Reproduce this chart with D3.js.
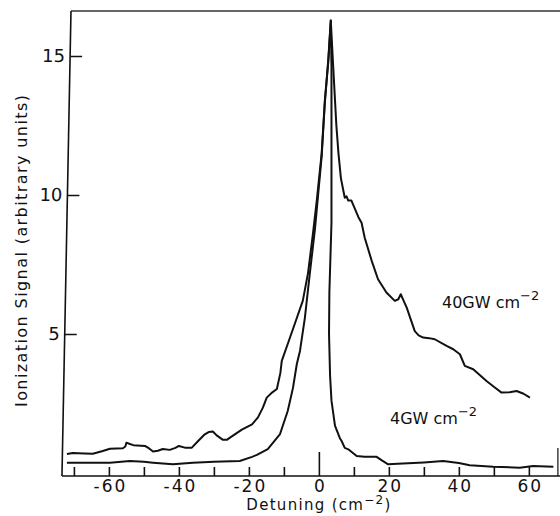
<!DOCTYPE html>
<html>
<head>
<meta charset="utf-8">
<script src="https://cdn.jsdelivr.net/npm/d3@7"></script>
<style>
  body { margin: 0; background: #fff; }
  text { font-family: "DejaVu Sans", sans-serif; fill: #111; }
</style>
</head>
<body>
<div id="chart"></div>
<script>
// Data: detuning (cm^-2) vs ionization signal
const detuning40 = [-72, -70.3, -67, -64.6, -62, -59.7, -56, -55.3, -55, -54, -53, -49.7, -48.5, -47.4, -46, -44.6, -42.6, -41, -40, -38.3, -36.3, -34.5, -32.6, -31.5, -30.3, -29.2, -27.4, -26.3, -25.4, -22, -19.1, -17.4, -16, -14.9, -13.3, -12, -11, -10.6, -8.9, -6.9, -4.6, -3.1, -1.7, -0.6, 0.8, 1.7, 2.7, 3.4, 4.1, 5.0, 5.6, 6.3, 7.4, 7.9, 8.4, 9.3, 10.3, 11.3, 12.2, 13.1, 15.1, 16.9, 19.3, 21.7, 22.7, 23.4, 24.2, 25.1, 27.4, 28.5, 29.8, 31.5, 33.1, 36.5, 38.4, 40.3, 41.7, 44.1, 47.9, 50, 52.2, 54.5, 56.5, 58.5, 60.3];
const signal40 = [0.68, 0.72, 0.70, 0.69, 0.78, 0.87, 0.89, 0.95, 1.09, 1.04, 1.00, 0.97, 0.88, 0.77, 0.80, 0.86, 0.83, 0.90, 0.97, 0.91, 0.91, 1.15, 1.39, 1.47, 1.49, 1.35, 1.19, 1.19, 1.27, 1.56, 1.75, 2.0, 2.35, 2.71, 2.9, 3.02, 3.6, 4.03, 4.64, 5.36, 6.19, 7.19, 8.6, 9.8, 11.5, 13.4, 14.8, 16.28, 14.6, 12.5, 11.5, 10.6, 9.9, 9.95, 9.8, 9.8, 9.5, 9.2, 9.0, 8.46, 7.63, 6.97, 6.49, 6.19, 6.25, 6.43, 6.2, 5.95, 5.1, 4.95, 4.87, 4.85, 4.81, 4.57, 4.45, 4.27, 3.85, 3.73, 3.31, 3.1, 2.89, 2.9, 2.95, 2.85, 2.71];

const detuning4 = [-72, -65, -59.7, -54, -50, -47.4, -41.7, -36, -30, -22.6, -19.1, -17.7, -14.6, -11.1, -8.9, -7.4, -6.3, -5.4, -4.0, -2.6, -1.1, 0.8, 1.7, 2.7, 3.4, 3.6, 3.6, 3.0, 2.9, 3.2, 3.6, 4.6, 6.0, 6.5, 7.4, 8.4, 10.8, 13, 16.5, 18, 19.8, 24, 30, 35.5, 40, 43.1, 49.8, 57.4, 61.2, 67];
const signal4 = [0.37, 0.37, 0.37, 0.43, 0.40, 0.37, 0.31, 0.37, 0.40, 0.43, 0.58, 0.65, 0.86, 1.4, 2.23, 3.06, 3.92, 4.39, 5.58, 7.16, 8.8, 11.4, 13.3, 14.9, 16.28, 14.6, 9.0, 6.5, 5.0, 3.5, 2.6, 1.7, 1.25, 1.15, 0.9, 0.85, 0.61, 0.58, 0.58, 0.45, 0.31, 0.34, 0.38, 0.43, 0.36, 0.28, 0.22, 0.19, 0.25, 0.22];

const xTicks = d3.range(-70, 70, 10);
const xTickLabels = [-60, -40, -20, 0, 20, 40, 60];
const yTicks = [5, 10, 15];

const width = 560, height = 516;

const svg = d3.select("#chart").append("svg")
  .attr("width", width)
  .attr("height", height);

const x = d3.scaleLinear().domain([-73.4, 68.9]).range([62, 560]);
const y = d3.scaleLinear().domain([-0.11, 16.62]).range([476, 11]);

// frame: top and a short piece of right edge
svg.append("line")
  .attr("x1", 71).attr("x2", x.range()[1])
  .attr("y1", y.range()[1]).attr("y2", y.range()[1])
  .attr("stroke", "#333").attr("stroke-width", 1.4);

svg.append("line")
  .attr("x1", x(68.3)).attr("x2", x(68.3))
  .attr("y1", y(0.9)).attr("y2", y.range()[0])
  .attr("stroke", "#222").attr("stroke-width", 1.3);

// x axis: ticks point up into the plot
const xAxis = d3.axisBottom(x)
  .tickValues(xTicks)
  .tickSize(-9)
  .tickPadding(4)
  .tickFormat(d => xTickLabels.includes(d) ? (d < 0 ? "-" + Math.abs(d) : d) : "");

const xg = svg.append("g")
  .attr("transform", `translate(0,${y.range()[0]})`)
  .call(xAxis);
xg.select(".domain").attr("stroke", "#111").attr("stroke-width", 1.6)
  .attr("d", `M${x.range()[0]},0H${x.range()[1]}`);
xg.selectAll(".tick line").attr("stroke", "#111").attr("stroke-width", 1.6)
  .attr("y2", d => d === 0 ? -24 : -9);
xg.selectAll(".tick text")
  .attr("font-size", 17)
  .attr("letter-spacing", 2)
  .attr("dx", 1)
  .attr("font-family", "DejaVu Sans")
  .attr("fill", "#111");

// y axis: slightly tilted like the scanned original
const yAxis = d3.axisLeft(y)
  .tickValues(yTicks)
  .tickSizeInner(-12)
  .tickSizeOuter(0)
  .tickPadding(5);

const yg = svg.append("g")
  .attr("transform", "translate(71.2,0) skewX(-1.11)")
  .call(yAxis);
yg.select(".domain").attr("stroke", "#111").attr("stroke-width", 1.6)
  .attr("d", `M0,${y.range()[1]}V${y.range()[0]}`);
yg.selectAll(".tick line").attr("stroke", "#111").attr("stroke-width", 1.6);
yg.selectAll(".tick text")
  .attr("font-size", 18)
  .attr("font-family", "DejaVu Sans")
  .attr("fill", "#111");

// curves
const line = d3.line()
  .x(d => x(d[0]))
  .y(d => y(d[1]));

const curves = [
  d3.zip(detuning40, signal40),
  d3.zip(detuning4, signal4)
];

svg.selectAll("path.curve")
  .data(curves)
  .join("path")
  .attr("class", "curve")
  .attr("d", line)
  .attr("fill", "none")
  .attr("stroke", "#111")
  .attr("stroke-width", 2)
  .attr("stroke-linejoin", "round");

// labels
const lab40 = svg.append("text")
  .attr("x", 442).attr("y", 308)
  .attr("font-size", 16);
lab40.append("tspan").text("40GW cm");
lab40.append("tspan").attr("dy", -8).attr("font-size", 13).text("−2");

const lab4 = svg.append("text")
  .attr("x", 390).attr("y", 424)
  .attr("font-size", 16);
lab4.append("tspan").text("4GW cm");
lab4.append("tspan").attr("dy", -8).attr("font-size", 13).text("−2");

const xl = svg.append("text")
  .attr("x", 319).attr("y", 510)
  .attr("text-anchor", "middle")
  .attr("font-size", 15)
  .attr("letter-spacing", 1.3);
xl.append("tspan").text("Detuning  (cm");
xl.append("tspan").attr("dy", -6).attr("font-size", 12).text("−2");
xl.append("tspan").attr("dy", 6).text(")");

svg.append("text")
  .attr("transform", "translate(27,251) rotate(-90)")
  .attr("text-anchor", "middle")
  .attr("font-size", 16)
  .attr("textLength", 312)
  .attr("lengthAdjust", "spacing")
  .text("Ionization Signal (arbitrary units)");
</script>
</body>
</html>
